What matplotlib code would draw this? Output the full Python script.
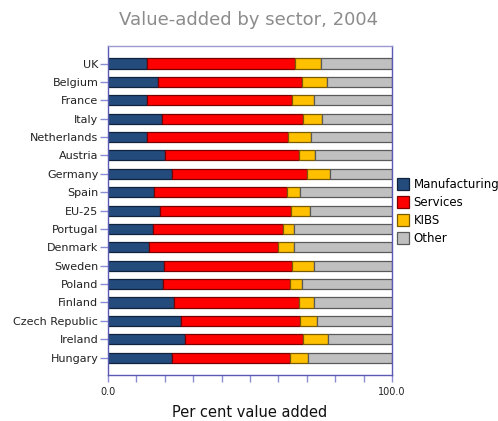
import numpy as np
import matplotlib.pyplot as plt

# Share of value added by sector, 2004 (per cent)
countries = ['UK', 'Belgium', 'France', 'Italy', 'Netherlands', 'Austria',
             'Germany', 'Spain', 'EU-25', 'Portugal', 'Denmark', 'Sweden',
             'Poland', 'Finland', 'Czech Republic', 'Ireland', 'Hungary']
manufacturing = [13.7, 17.5, 13.9, 19.0, 13.9, 19.9, 22.7, 16.2, 18.2,
                 15.7, 14.6, 19.6, 19.3, 23.4, 25.6, 27.1, 22.6]
services = [52.0, 50.8, 51.0, 49.7, 49.6, 47.4, 47.2, 46.8, 46.3,
            45.9, 45.4, 45.1, 44.7, 43.7, 42.0, 41.5, 41.4]
kibs = [9.3, 8.9, 7.8, 6.6, 7.8, 5.7, 8.2, 4.7, 6.7,
        3.9, 5.5, 7.9, 4.4, 5.4, 6.0, 8.8, 6.3]
other = [25.0, 22.8, 27.3, 24.7, 28.7, 27.0, 21.9, 32.3, 28.8,
         34.5, 34.5, 27.4, 31.6, 27.5, 26.4, 22.6, 29.7]

series = [
    ('Manufacturing', manufacturing, '#234b7c', '#10233d'),
    ('Services', services, '#ff0000', '#7a0000'),
    ('KIBS', kibs, '#ffc000', '#7a5c00'),
    ('Other', other, '#c0c0c0', '#5a5a5a'),
]

fig = plt.figure(figsize=(4.98, 4.21), dpi=100)
ax = fig.add_axes([0.2169, 0.109, 0.5703, 0.7816])

y = np.arange(len(countries))
left = np.zeros(len(countries))
for name, vals, color, edge in series:
    vals = np.array(vals)
    ax.barh(y, vals, left=left, height=0.55, color=color, edgecolor=edge,
            linewidth=0.9, label=name)
    left += vals

ax.set_xlim(0, 100)
ax.set_ylim(16.95, -0.95)
ax.set_yticks(y)
ax.set_yticklabels(countries, fontsize=8, color='#222222')
ax.set_xticks([0, 100])
ax.set_xticklabels(['0.0', '100.0'], fontsize=7, color='#222222')
ax.set_xticks(np.arange(10, 100, 10), minor=True)

axis_blue = '#5a5ab4'
ax.tick_params(axis='y', length=6, width=1, color='#8c8cd2', pad=1)
ax.tick_params(axis='x', which='both', length=5, width=1, color='#8c8cd2',
               direction='out')
for side in ['left', 'right', 'bottom']:
    ax.spines[side].set_color(axis_blue)
    ax.spines[side].set_linewidth(1)
ax.spines['top'].set_color('#9a9ad0')
ax.spines['top'].set_linewidth(1)

ax.set_xlabel('Per cent value added', fontsize=10.5, color='#111111', labelpad=6)
fig.suptitle('Value-added by sector, 2004', fontsize=13, color='#8c8c8c',
             y=0.975)

ax.legend(loc='center left', bbox_to_anchor=(0.797, 0.497),
          bbox_transform=fig.transFigure, frameon=False, fontsize=8.5,
          handlelength=1.05, handleheight=1.2, handletextpad=0.35,
          labelspacing=0.42, borderaxespad=0, borderpad=0)

fig.savefig('out.png', dpi=100)
